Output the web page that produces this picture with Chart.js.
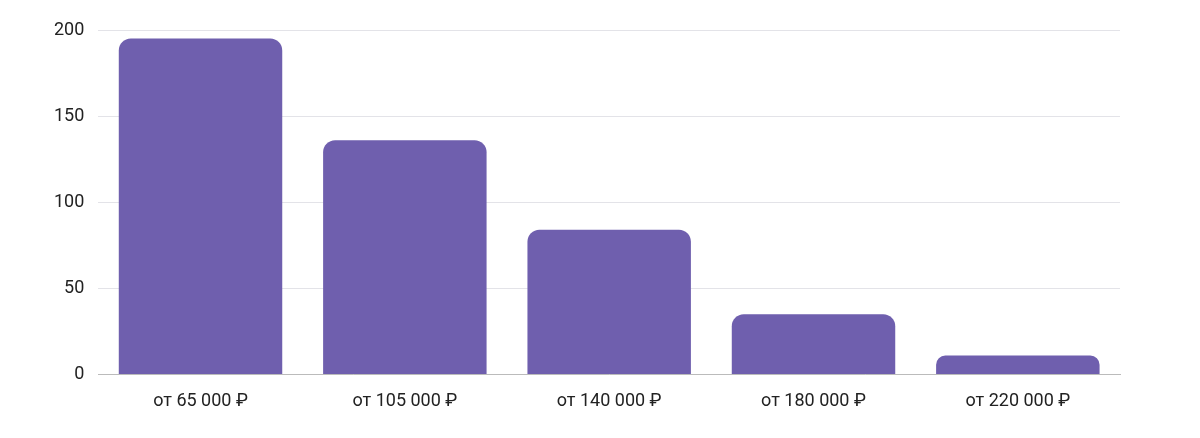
<!DOCTYPE html>
<html>
<head>
<meta charset="utf-8">
<script src="https://cdn.jsdelivr.net/npm/chart.js@4"></script>
<style>
html,body{margin:0;padding:0;background:#fff;}
#wrap{width:1200px;height:438px;}
</style>
</head>
<body>
<div id="wrap"><canvas id="chart"></canvas></div>
<script>
const categories = ["от 65 000 ₽", "от 105 000 ₽", "от 140 000 ₽", "от 180 000 ₽", "от 220 000 ₽"];
const values = [195, 136, 84, 35, 11];

Chart.defaults.font.family = "Roboto";
Chart.defaults.color = "#222";

new Chart(document.getElementById("chart"), {
    type: "bar",
    data: {
        labels: categories,
        datasets: [{
            data: values,
            backgroundColor: "#6f5fae",
            borderRadius: {topLeft: 12, topRight: 12},
            borderSkipped: "bottom",
            barPercentage: 0.8,
            categoryPercentage: 1
        }]
    },
    options: {
        responsive: true,
        maintainAspectRatio: false,
        animation: false,
        layout: {padding: {left: 40, right: 80, top: 30, bottom: 18}},
        plugins: {legend: {display: false}, tooltip: {enabled: false}},
        scales: {
            x: {
                grid: {display: false},
                border: {color: "#bbb"},
                ticks: {font: {size: 18}, padding: 8}
            },
            y: {
                min: 0, max: 200,
                ticks: {stepSize: 50, font: {size: 18}, padding: 14},
                grid: {color: "#e3e3e8", drawTicks: false},
                border: {display: false}
            }
        }
    }
});
</script>
</body>
</html>
